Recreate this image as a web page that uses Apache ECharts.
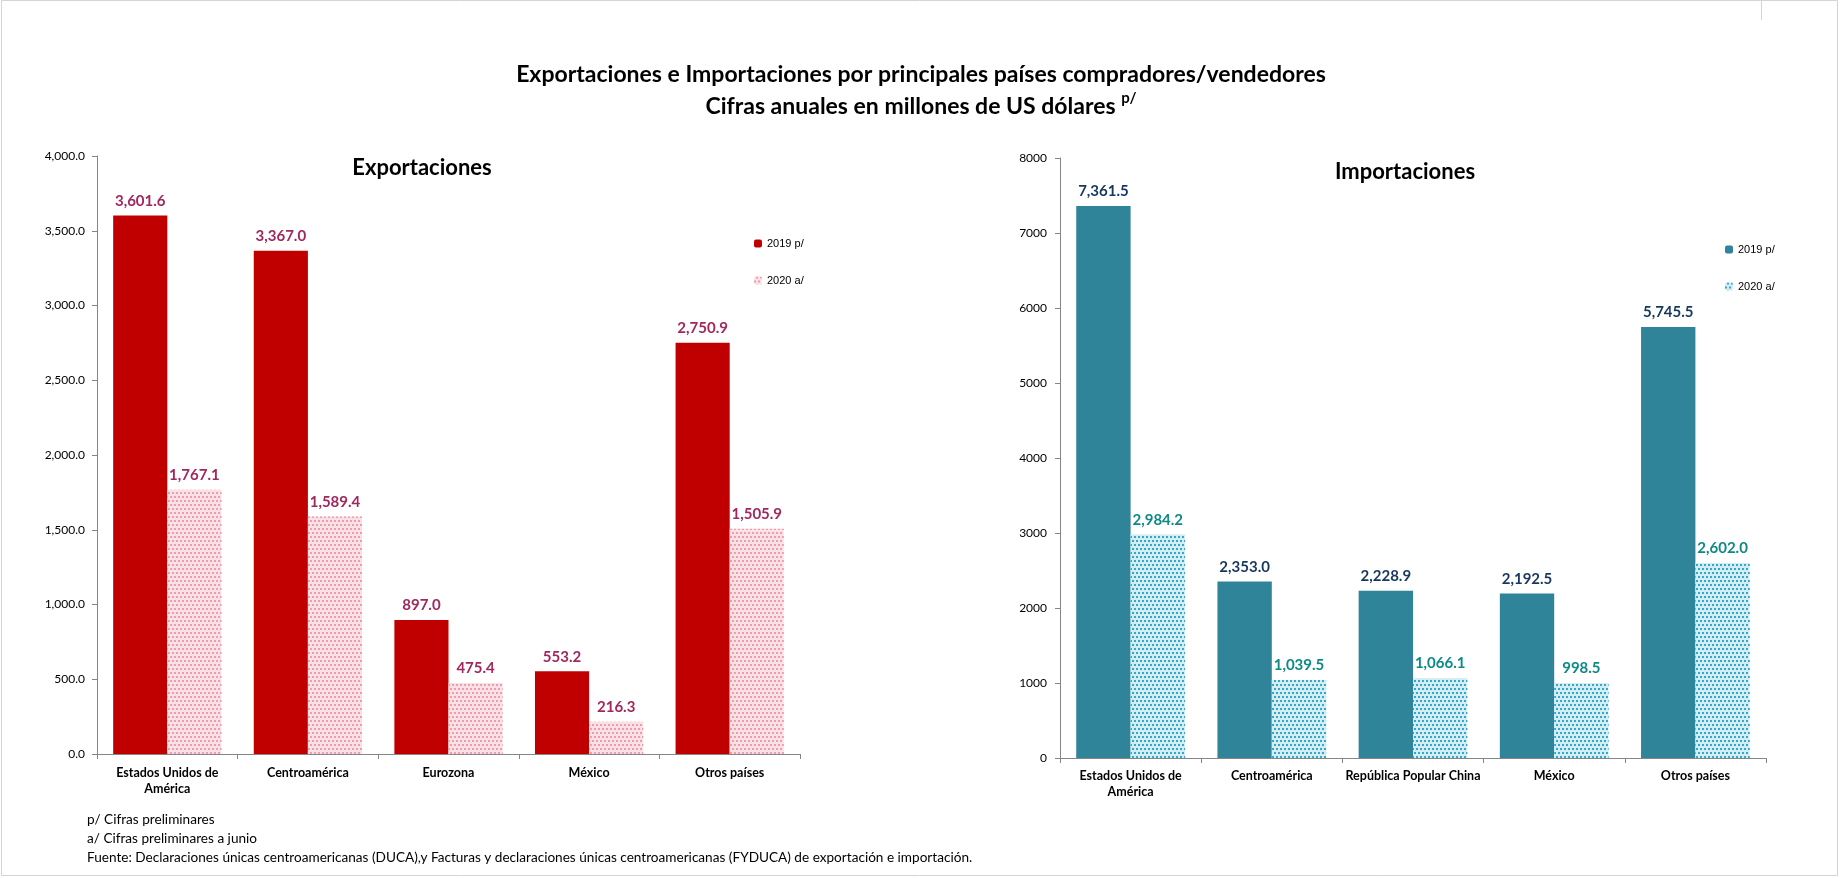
<!DOCTYPE html>
<html>
<head>
<meta charset="utf-8">
<script src="https://cdn.jsdelivr.net/npm/echarts@6/dist/echarts.min.js"></script>
<style>
html,body{margin:0;padding:0;background:#fff;}
#chart{width:1841px;height:878px;}
</style>
</head>
<body>
<div id="chart"></div>
<script>
// ---- data ----
var expCategories = ['Estados Unidos de\nAmérica', 'Centroamérica', 'Eurozona', 'México', 'Otros países'];
var exp2019 = [3601.6, 3367.0, 897.0, 553.2, 2750.9];
var exp2020 = [1767.1, 1589.4, 475.4, 216.3, 1505.9];

var impCategories = ['Estados Unidos de\nAmérica', 'Centroamérica', 'República Popular China', 'México', 'Otros países'];
var imp2019 = [7361.5, 2353.0, 2228.9, 2192.5, 5745.5];
var imp2020 = [2984.2, 1039.5, 1066.1, 998.5, 2602.0];

var seriesNames = ['2019 p/', '2020 a/'];
var footnotes = [
  'p/ Cifras preliminares',
  'a/ Cifras preliminares a junio',
  'Fuente: Declaraciones únicas centroamericanas (DUCA),y Facturas y declaraciones únicas centroamericanas (FYDUCA) de exportación e importación.'
];

var FONT = 'Lato, "Open Sans", sans-serif';

function fmt1(v) {
  return Number(v).toLocaleString('en-US', {minimumFractionDigits: 1, maximumFractionDigits: 1});
}

var checker = {
  symbol: 'rect', symbolSize: 1,
  dashArrayX: [[2, 2], [0, 2, 2, 0]],
  dashArrayY: [2, 2],
  rotation: 0
};

var chart = echarts.init(document.getElementById('chart'), null, {renderer: 'canvas'});

function labelCfg(color) {
  return {
    show: true, position: 'top', distance: 7,
    fontFamily: FONT, fontSize: 15, fontWeight: 'bold', color: color,
    formatter: function (p) { return fmt1(p.value); }
  };
}

var axisLineStyle = {color: '#868686', width: 1};
var legendText = {fontFamily: '"Liberation Sans", Arial, sans-serif', fontSize: 11, color: '#000'};

var option = {
  backgroundColor: '#ffffff',
  animation: false,
  grid: [
    {left: 97, right: 1841 - 800, top: 156, bottom: 878 - 754, containLabel: false},
    {left: 1060, right: 1841 - 1766, top: 158, bottom: 878 - 758, containLabel: false}
  ],
  legend: [
    {
      orient: 'vertical', left: 754, top: 238, padding: 0, itemGap: 26,
      itemWidth: 8, itemHeight: 8, selectedMode: false, textStyle: legendText,
      data: [seriesNames[0], seriesNames[1]]
    },
    {
      orient: 'vertical', left: 1725, top: 244, padding: 0, itemGap: 26,
      itemWidth: 8, itemHeight: 8, selectedMode: false, textStyle: legendText,
      data: [seriesNames[0] + ' ', seriesNames[1] + ' ']
    }
  ],
  xAxis: [
    {
      type: 'category', gridIndex: 0, data: expCategories,
      axisLine: {lineStyle: axisLineStyle},
      axisTick: {show: true, length: 5, lineStyle: axisLineStyle},
      axisLabel: {interval: 0, margin: 11, fontFamily: FONT, fontSize: 12.5, fontWeight: 'bold', color: '#000', lineHeight: 16}
    },
    {
      type: 'category', gridIndex: 1, data: impCategories,
      axisLine: {lineStyle: axisLineStyle},
      axisTick: {show: true, length: 5, lineStyle: axisLineStyle},
      axisLabel: {interval: 0, margin: 10, fontFamily: FONT, fontSize: 12.5, fontWeight: 'bold', color: '#000', lineHeight: 16}
    }
  ],
  yAxis: [
    {
      type: 'value', gridIndex: 0, min: 0, max: 4000, interval: 500,
      axisLine: {show: true, lineStyle: axisLineStyle},
      axisTick: {show: true, length: 5, lineStyle: axisLineStyle},
      splitLine: {show: false},
      axisLabel: {margin: 12, fontFamily: FONT, fontSize: 12, color: '#000', formatter: function (v) { return fmt1(v); }}
    },
    {
      type: 'value', gridIndex: 1, min: 0, max: 8000, interval: 1000,
      axisLine: {show: true, lineStyle: axisLineStyle},
      axisTick: {show: true, length: 5, lineStyle: axisLineStyle},
      splitLine: {show: false},
      axisLabel: {margin: 13, fontFamily: FONT, fontSize: 12, color: '#000', formatter: function (v) { return String(v); }}
    }
  ],
  series: [
    {
      name: seriesNames[0], type: 'bar', xAxisIndex: 0, yAxisIndex: 0, data: exp2019,
      barGap: '0%', barCategoryGap: '23%',
      itemStyle: {color: '#C00000'},
      label: labelCfg('#A0285F')
    },
    {
      name: seriesNames[1], type: 'bar', xAxisIndex: 0, yAxisIndex: 0, data: exp2020,
      barGap: '0%', barCategoryGap: '23%',
      itemStyle: {color: '#FAE1E6', decal: Object.assign({color: '#EC9DB0'}, checker)},
      label: labelCfg('#A0285F')
    },
    {
      name: seriesNames[0] + ' ', type: 'bar', xAxisIndex: 1, yAxisIndex: 1, data: imp2019,
      barGap: '0%', barCategoryGap: '23%',
      itemStyle: {color: '#2F8499'},
      label: labelCfg('#17375E')
    },
    {
      name: seriesNames[1] + ' ', type: 'bar', xAxisIndex: 1, yAxisIndex: 1, data: imp2020,
      barGap: '0%', barCategoryGap: '23%',
      itemStyle: {color: '#D3EDF3', decal: Object.assign({color: '#34A8C8'}, checker)},
      label: labelCfg('#0E8A86')
    }
  ],
  graphic: [
    {
      type: 'rect', silent: true, z: -1,
      shape: {x: 1.5, y: 0.5, width: 1836, height: 875},
      style: {fill: 'none', stroke: '#D4D4D4', lineWidth: 1}
    },
    {
      type: 'line', silent: true,
      shape: {x1: 1761.5, y1: 0, x2: 1761.5, y2: 20},
      style: {stroke: '#D4D4D4', lineWidth: 1}
    },
    {
      type: 'text', x: 921, y: 75,
      style: {
        text: 'Exportaciones e Importaciones por principales países compradores/vendedores',
        fontFamily: FONT, fontSize: 23, fontWeight: 'bold', fill: '#000',
        textAlign: 'center', textVerticalAlign: 'middle'
      }
    },
    {
      type: 'text', x: 921, y: 107,
      style: {
        text: '{m|Cifras anuales en millones de US dólares }{s|p/}',
        textAlign: 'center', textVerticalAlign: 'middle',
        rich: {
          m: {fontFamily: FONT, fontSize: 23, fontWeight: 'bold', fill: '#000', lineHeight: 32},
          s: {fontFamily: FONT, fontSize: 15, fontWeight: 'bold', fill: '#000', lineHeight: 15, verticalAlign: 'top'}
        }
      }
    },
    {
      type: 'text', x: 422, y: 168,
      style: {text: 'Exportaciones', fontFamily: FONT, fontSize: 22, fontWeight: 'bold', fill: '#000', textAlign: 'center', textVerticalAlign: 'middle'}
    },
    {
      type: 'text', x: 1405, y: 172,
      style: {text: 'Importaciones', fontFamily: FONT, fontSize: 22, fontWeight: 'bold', fill: '#000', textAlign: 'center', textVerticalAlign: 'middle'}
    },
    {
      type: 'text', x: 87, y: 820,
      style: {text: footnotes[0], fontFamily: FONT, fontSize: 13.6, fill: '#000', textVerticalAlign: 'middle'}
    },
    {
      type: 'text', x: 87, y: 839,
      style: {text: footnotes[1], fontFamily: FONT, fontSize: 13.6, fill: '#000', textVerticalAlign: 'middle'}
    },
    {
      type: 'text', x: 87, y: 858,
      style: {text: footnotes[2], fontFamily: FONT, fontSize: 13.6, fill: '#000', textVerticalAlign: 'middle'}
    }
  ]
};

chart.setOption(option);
</script>
</body>
</html>
